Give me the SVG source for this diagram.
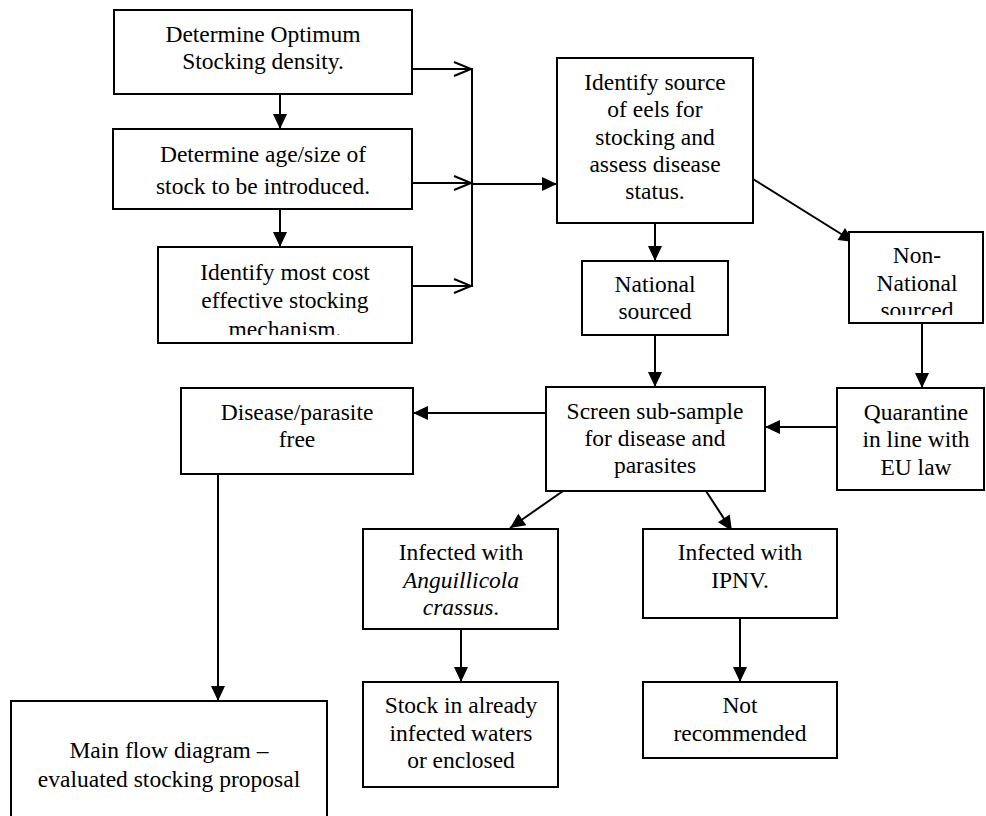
<svg xmlns="http://www.w3.org/2000/svg" width="986" height="816" viewBox="0 0 986 816">
<style>
  .box { fill: #ffffff; stroke: #000000; stroke-width: 2; }
  .t { font-size: 23.5px; fill: #000000; text-anchor: middle; }
  .c { stroke: #000000; stroke-width: 2; fill: none; }
  .a { marker-end: url(#filled); }
  .o { marker-end: url(#open); }
</style>
<defs>
  <marker id="filled" markerUnits="userSpaceOnUse" markerWidth="15" markerHeight="14" refX="15" refY="7" orient="auto" overflow="visible">
    <path d="M0,0 L15,7 L0,14 Z" fill="#000000"/>
  </marker>
  <marker id="open" markerUnits="userSpaceOnUse" markerWidth="18" markerHeight="16" refX="17" refY="7" orient="auto" overflow="visible">
    <path d="M0,0 L17,7 L0,14" fill="none" stroke="#000000" stroke-width="2"/>
  </marker>
  <clipPath id="clip3"><rect x="158" y="247" width="254" height="88"/></clipPath>
  <clipPath id="clipNN"><rect x="849" y="232" width="134" height="83"/></clipPath>
</defs>
<rect width="986" height="816" fill="#ffffff"/>

<g id="connectors">
  <line class="c a" x1="280" y1="94" x2="280" y2="129"/>
  <line class="c a" x1="280" y1="209" x2="280" y2="247"/>
  <line class="c o" x1="412" y1="69" x2="471" y2="69"/>
  <line class="c o" x1="412" y1="183" x2="471" y2="183"/>
  <line class="c o" x1="412" y1="286" x2="471" y2="286"/>
  <line class="c" x1="472" y1="68" x2="472" y2="287"/>
  <line class="c a" x1="472" y1="184" x2="557" y2="184"/>
  <line class="c a" x1="655" y1="223" x2="655" y2="261"/>
  <line class="c a" x1="753" y1="179" x2="854" y2="242"/>
  <line class="c a" x1="655" y1="335" x2="655" y2="387"/>
  <line class="c a" x1="922" y1="323" x2="922" y2="388"/>
  <line class="c a" x1="837" y1="427" x2="765" y2="427"/>
  <line class="c a" x1="546" y1="413" x2="413" y2="413"/>
  <line class="c a" x1="218" y1="474" x2="218" y2="701"/>
  <line class="c a" x1="563" y1="491" x2="510" y2="528"/>
  <line class="c a" x1="706" y1="491" x2="732" y2="531"/>
  <line class="c a" x1="461" y1="618" x2="461" y2="682"/>
  <line class="c a" x1="740" y1="618" x2="740" y2="682"/>
</g>

<g font-family="Liberation Serif, Tinos, DejaVu Serif, serif">
<g id="n1">
  <rect class="box" x="114" y="10" width="298" height="84"/>
  <text class="t" x="263" y="42">Determine Optimum</text>
  <text class="t" x="263" y="69">Stocking density.</text>
</g>
<g id="n2">
  <rect class="box" x="113" y="129" width="299" height="80"/>
  <text class="t" x="263" y="162">Determine age/size of</text>
  <text class="t" x="263" y="194">stock to be introduced.</text>
</g>
<g id="n3">
  <rect class="box" x="158" y="247" width="254" height="96"/>
  <g clip-path="url(#clip3)">
    <text class="t" x="285" y="280">Identify most cost</text>
    <text class="t" x="285" y="308">effective stocking</text>
    <text class="t" x="285" y="337">mechanism.</text>
  </g>
</g>
<g id="n4">
  <rect class="box" x="557" y="58" width="196" height="165"/>
  <text class="t" x="655" y="90">Identify source</text>
  <text class="t" x="655" y="117">of eels for</text>
  <text class="t" x="655" y="145">stocking and</text>
  <text class="t" x="655" y="172">assess disease</text>
  <text class="t" x="655" y="199">status.</text>
</g>
<g id="n5">
  <rect class="box" x="582" y="261" width="146" height="74"/>
  <text class="t" x="655" y="292">National</text>
  <text class="t" x="655" y="319">sourced</text>
</g>
<g id="n6">
  <rect class="box" x="849" y="232" width="134" height="91"/>
  <g clip-path="url(#clipNN)">
    <text class="t" x="917" y="263">Non-</text>
    <text class="t" x="917" y="291">National</text>
    <text class="t" x="917" y="318">sourced</text>
  </g>
</g>
<g id="n7">
  <rect class="box" x="181" y="388" width="232" height="86"/>
  <text class="t" x="297" y="420">Disease/parasite</text>
  <text class="t" x="297" y="447">free</text>
</g>
<g id="n8">
  <rect class="box" x="546" y="387" width="219" height="104"/>
  <text class="t" x="655" y="419">Screen sub-sample</text>
  <text class="t" x="655" y="446">for disease and</text>
  <text class="t" x="655" y="473">parasites</text>
</g>
<g id="n9">
  <rect class="box" x="837" y="388" width="147" height="102"/>
  <text class="t" x="916" y="420">Quarantine</text>
  <text class="t" x="916" y="447">in line with</text>
  <text class="t" x="916" y="475">EU law</text>
</g>
<g id="n10">
  <rect class="box" x="363" y="529" width="195" height="100"/>
  <text class="t" x="461" y="560">Infected with</text>
  <text class="t" x="461" y="588" font-style="italic">Anguillicola</text>
  <text class="t" x="461" y="615"><tspan font-style="italic">crassus</tspan>.</text>
</g>
<g id="n11">
  <rect class="box" x="643" y="529" width="194" height="89"/>
  <text class="t" x="740" y="560">Infected with</text>
  <text class="t" x="740" y="588">IPNV.</text>
</g>
<g id="n12">
  <rect class="box" x="363" y="682" width="195" height="105"/>
  <text class="t" x="461" y="713">Stock in already</text>
  <text class="t" x="461" y="741">infected waters</text>
  <text class="t" x="461" y="768">or enclosed</text>
</g>
<g id="n13">
  <rect class="box" x="643" y="682" width="194" height="76"/>
  <text class="t" x="740" y="713">Not</text>
  <text class="t" x="740" y="741">recommended</text>
</g>
<g id="n14">
  <rect class="box" x="11" y="701" width="316" height="130"/>
  <text class="t" x="169" y="758">Main flow diagram –</text>
  <text class="t" x="169" y="787">evaluated stocking proposal</text>
</g>
</g>
</svg>
